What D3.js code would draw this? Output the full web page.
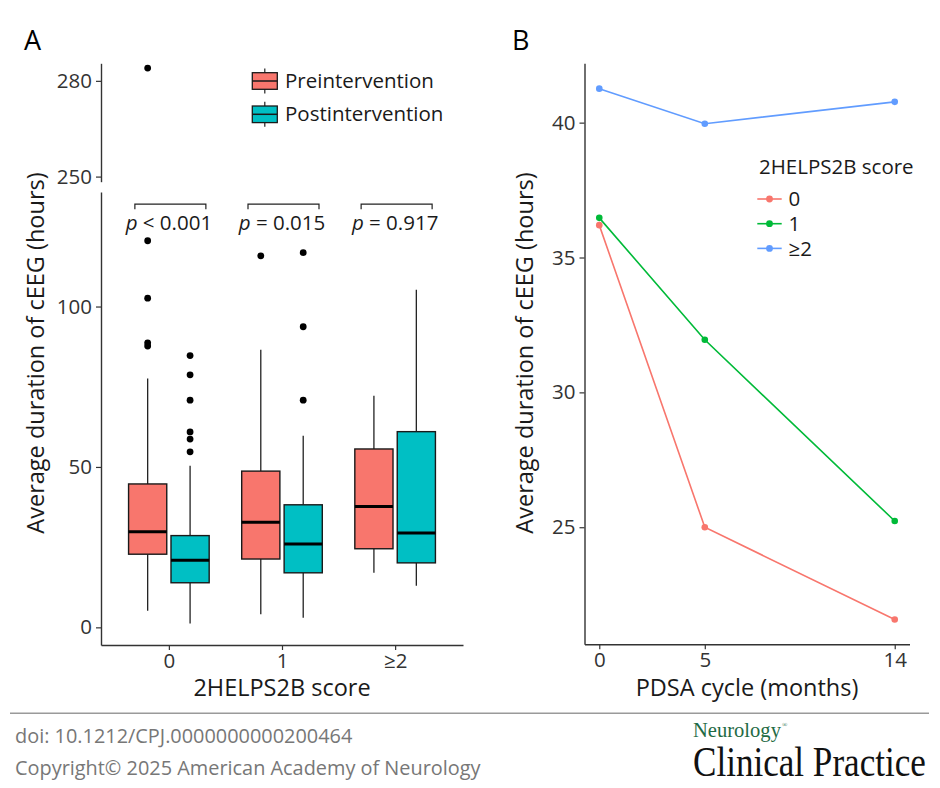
<!DOCTYPE html>
<html>
<head>
<meta charset="utf-8">
<script src="https://cdn.jsdelivr.net/npm/d3@7"></script>
<style>
  html, body { margin: 0; padding: 0; background: #fff; }
  svg { display: block; }
  text { font-family: "Open Sans", sans-serif; }
</style>
</head>
<body>
<svg id="chart" width="940" height="788"></svg>
<script>
// ---------------- Data ----------------
const categories = ["0", "1", "≥2"];
const groups = ["Preintervention", "Postintervention"];

// Panel A box statistics (hours), per category
const preLow    = [5.2, 4.1, 17.0];
const preQ1     = [22.8, 21.3, 24.5];
const preMedian = [29.8, 32.8, 37.7];
const preQ3     = [44.7, 48.7, 55.6];
const preHigh   = [77.6, 86.5, 72.2];
const preOutliers = [[284, 120.5, 102.6, 88.7, 87.7], [115.8], []];

const postLow    = [1.2, 3.0, 13.0];
const postQ1     = [13.9, 17.0, 20.1];
const postMedian = [20.9, 26.0, 29.4];
const postQ3     = [28.6, 38.2, 61.0];
const postHigh   = [50.4, 59.7, 105.2];
const postOutliers = [[84.7, 78.7, 70.8, 60.9, 58.7, 54.7], [116.8, 93.7, 70.8], []];

const pLabels = ["< 0.001", "= 0.015", "= 0.917"];
const bracketValue = 131.9;
const bracketTip = 130.3;

const lowTicks = [0, 50, 100];
const highTicks = [250, 280];

// Panel B
const months = [0, 5, 14];
const score0 = [36.2, 25.0, 21.58];
const score1 = [36.47, 31.95, 25.23];
const score2 = [41.26, 39.96, 40.77];
const seriesNames = ["0", "1", "≥2"];
const seriesColors = ["#F8766D", "#00BA38", "#619CFF"];
const bTicksY = [25, 30, 35, 40];

const groupFill = ["#F8766D", "#00BFC4"];

// ---------------- Drawing ----------------
const svg = d3.select("#chart");
const FS = 20.5;
const TXT = "#1a1a1a";
const AX = "#333";

// ----- Panel A -----
const xA = d3.scalePoint().domain(categories).range([101, 463]).padding(0.6);
const stepA = xA.step();
const sub = d3.scaleBand().domain(groups)
  .range([-0.375 * stepA, 0.375 * stepA]).paddingInner(0.1).paddingOuter(0.05);
const yLow = d3.scaleLinear().domain([-5.5, 135.7]).range([645, 192]);
const yHigh = d3.scaleLinear().domain([248.4, 285.5]).range([181.7, 63.3]);
const yOf = v => v > 200 ? yHigh(v) : yLow(v);

function styleAxis(g) {
  g.select(".domain").attr("stroke", AX).attr("stroke-width", 1.4);
  g.selectAll(".tick line").attr("stroke", AX).attr("stroke-width", 1.2);
  g.selectAll(".tick text").attr("fill", "#333").attr("font-size", FS)
    .attr("font-family", "Open Sans");
}

svg.append("g").attr("transform", "translate(101,0)")
  .call(d3.axisLeft(yLow).tickValues(lowTicks).tickSize(5).tickSizeOuter(0).tickPadding(4))
  .call(styleAxis);
svg.append("g").attr("transform", "translate(101,0)")
  .call(d3.axisLeft(yHigh).tickValues(highTicks).tickSize(5).tickSizeOuter(0).tickPadding(4))
  .call(styleAxis);
svg.append("g").attr("transform", "translate(0,645)")
  .call(d3.axisBottom(xA).tickSize(5).tickSizeOuter(0).tickPadding(3))
  .call(styleAxis);

const boxData = [];
categories.forEach((c, i) => {
  boxData.push({cat: c, grp: groups[0], fill: groupFill[0], low: preLow[i], q1: preQ1[i], med: preMedian[i], q3: preQ3[i], high: preHigh[i], out: preOutliers[i]});
  boxData.push({cat: c, grp: groups[1], fill: groupFill[1], low: postLow[i], q1: postQ1[i], med: postMedian[i], q3: postQ3[i], high: postHigh[i], out: postOutliers[i]});
});

const boxes = svg.append("g").selectAll("g").data(boxData).join("g");
boxes.each(function(d) {
  const g = d3.select(this);
  const x0 = xA(d.cat) + sub(d.grp);
  const w = sub.bandwidth();
  const cx = x0 + w / 2;
  g.append("line").attr("x1", cx).attr("x2", cx).attr("y1", yLow(d.q3)).attr("y2", yLow(d.high))
    .attr("stroke", "#222").attr("stroke-width", 1.3);
  g.append("line").attr("x1", cx).attr("x2", cx).attr("y1", yLow(d.q1)).attr("y2", yLow(d.low))
    .attr("stroke", "#222").attr("stroke-width", 1.3);
  g.append("rect").attr("x", x0).attr("width", w)
    .attr("y", yLow(d.q3)).attr("height", yLow(d.q1) - yLow(d.q3))
    .attr("fill", d.fill).attr("stroke", "#1a1a1a").attr("stroke-width", 1.4);
  g.append("line").attr("x1", x0).attr("x2", x0 + w).attr("y1", yLow(d.med)).attr("y2", yLow(d.med))
    .attr("stroke", "#000").attr("stroke-width", 3);
  g.selectAll("circle").data(d.out).join("circle")
    .attr("cx", cx).attr("cy", v => yOf(v)).attr("r", 3.4).attr("fill", "#000");
});

// p-value brackets
const brackets = svg.append("g");
categories.forEach((c, i) => {
  const cx = xA(c);
  const l = cx - 34, r = cx + 37;
  const yb = yLow(bracketValue), yt = yLow(bracketTip);
  brackets.append("path")
    .attr("d", `M${l},${yt}V${yb}H${r}V${yt}`)
    .attr("fill", "none").attr("stroke", "#222").attr("stroke-width", 1.2);
  const t = brackets.append("text").attr("x", cx).attr("y", 230)
    .attr("text-anchor", "middle").attr("font-size", FS).attr("fill", TXT);
  t.append("tspan").attr("font-style", "italic").text("p");
  t.append("tspan").text(" " + pLabels[i]);
});

// Legend A
const legA = svg.append("g");
groups.forEach((gname, i) => {
  const cy = 81 + i * 33.3;
  const kx = 252.3, kw = 25;
  legA.append("line").attr("x1", kx + kw / 2).attr("x2", kx + kw / 2)
    .attr("y1", cy - 12.5).attr("y2", cy + 12.5).attr("stroke", "#222").attr("stroke-width", 1.2);
  legA.append("rect").attr("x", kx).attr("y", cy - 8.3).attr("width", kw).attr("height", 16.6)
    .attr("fill", groupFill[i]).attr("stroke", "#1a1a1a").attr("stroke-width", 1.3);
  legA.append("line").attr("x1", kx).attr("x2", kx + kw).attr("y1", cy).attr("y2", cy)
    .attr("stroke", "#1a1a1a").attr("stroke-width", 1.5);
  legA.append("text").attr("x", 285).attr("y", cy + 6.5).attr("font-size", FS).attr("fill", TXT).text(gname);
});

// Titles A
svg.append("text").attr("x", 24).attr("y", 49.5).attr("font-size", 27).attr("fill", "#000").text("A");
svg.append("text").attr("transform", "translate(43.5,353) rotate(-90)").attr("text-anchor", "middle")
  .attr("font-size", 23.5).attr("fill", TXT).text("Average duration of cEEG (hours)");
svg.append("text").attr("x", xA(categories[1])).attr("y", 696).attr("text-anchor", "middle")
  .attr("font-size", 23.5).attr("fill", TXT).text("2HELPS2B score");

// ----- Panel B -----
const xB = d3.scaleLinear().domain([-0.7, 14.7]).range([584.5, 909.5]);
const yB = d3.scaleLinear().domain([20.66, 42.2]).range([644.3, 63.3]);

svg.append("g").attr("transform", "translate(584.5,0)")
  .call(d3.axisLeft(yB).tickValues(bTicksY).tickSize(5).tickSizeOuter(0).tickPadding(4))
  .call(styleAxis);
svg.append("g").attr("transform", "translate(0,644.3)")
  .call(d3.axisBottom(xB).tickValues(months).tickFormat(d3.format("d")).tickSize(5).tickSizeOuter(0).tickPadding(3))
  .call(styleAxis);

const seriesB = [score0, score1, score2];
const line = d3.line().x((d, i) => xB(months[i])).y(d => yB(d));
seriesB.forEach((vals, s) => {
  svg.append("path").datum(vals).attr("d", line).attr("fill", "none")
    .attr("stroke", seriesColors[s]).attr("stroke-width", 1.6);
  svg.append("g").selectAll("circle").data(vals).join("circle")
    .attr("cx", (d, i) => xB(months[i])).attr("cy", d => yB(d)).attr("r", 3.3)
    .attr("fill", seriesColors[s]);
});

// Legend B
const legB = svg.append("g");
legB.append("text").attr("x", 759).attr("y", 174).attr("font-size", FS).attr("fill", TXT).text("2HELPS2B score");
seriesNames.forEach((nm, i) => {
  const cy = 199 + i * 24.7;
  legB.append("line").attr("x1", 757.3).attr("x2", 781.7).attr("y1", cy).attr("y2", cy)
    .attr("stroke", seriesColors[i]).attr("stroke-width", 1.6);
  legB.append("circle").attr("cx", 769.5).attr("cy", cy).attr("r", 3.4).attr("fill", seriesColors[i]);
  legB.append("text").attr("x", 788.5).attr("y", cy + 7.3).attr("font-size", FS).attr("fill", TXT).text(nm);
});

svg.append("text").attr("x", 512).attr("y", 49.5).attr("font-size", 27).attr("fill", "#000").text("B");
svg.append("text").attr("transform", "translate(533,353) rotate(-90)").attr("text-anchor", "middle")
  .attr("font-size", 23.5).attr("fill", TXT).text("Average duration of cEEG (hours)");
svg.append("text").attr("x", xB(7)).attr("y", 696).attr("text-anchor", "middle")
  .attr("font-size", 23.5).attr("fill", TXT).text("PDSA cycle (months)");

// ----- Footer -----
svg.append("line").attr("x1", 10).attr("x2", 929).attr("y1", 713.3).attr("y2", 713.3)
  .attr("stroke", "#9a9a9a").attr("stroke-width", 1.5);
svg.append("text").attr("x", 15).attr("y", 743).attr("font-size", 19.9).attr("fill", "#777")
  .text("doi: 10.1212/CPJ.0000000000200464");
svg.append("text").attr("x", 15).attr("y", 775).attr("font-size", 19.9).attr("fill", "#777")
  .text("Copyright© 2025 American Academy of Neurology");

// logo: condensed serif via horizontal scaling to a target width
function fitText(x, y, size, color, str, targetW) {
  const g = svg.append("g");
  const t = g.append("text").attr("x", 0).attr("y", 0).attr("font-size", size)
    .style("font-family", "'Liberation Serif', 'DejaVu Serif', serif").attr("fill", color).text(str);
  const w = t.node().getComputedTextLength();
  g.attr("transform", `translate(${x},${y}) scale(${targetW / w},1)`);
  return g;
}
fitText(693, 737, 22, "#1f6b45", "Neurology", 88);
svg.append("text").attr("x", 782).attr("y", 727).attr("font-size", 7)
  .style("font-family", "'Liberation Serif', serif").attr("fill", "#1f6b45").text("®");
fitText(693, 776, 42, "#111", "Clinical Practice", 233);
</script>
</body>
</html>
